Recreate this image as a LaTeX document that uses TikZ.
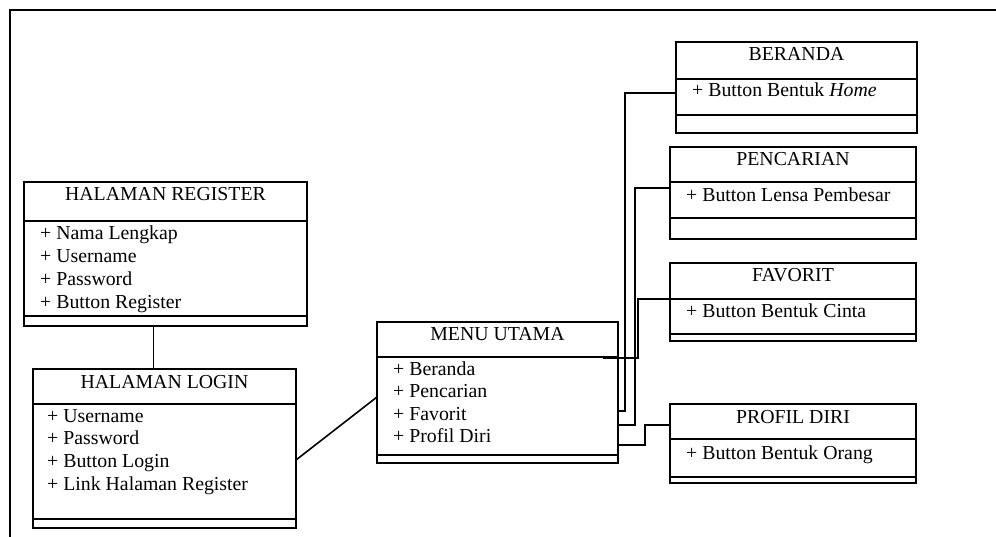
\documentclass[tikz,border=0pt]{standalone}
\usepackage{fontspec}
\setmainfont{Liberation Serif}
\usetikzlibrary{calc}

% One UML class box: name, x, y, width, height, first and second separator offsets, title
\newcommand{\umlbox}[8]{%
  \node[cls, minimum width=#4pt, minimum height=#5pt] (#1) at (#2,#3) {};
  \draw[clsline] ($(#1.north west)+(0,#6)$) -- ($(#1.north east)+(0,#6)$);
  \draw[clsline] ($(#1.north west)+(0,#7)$) -- ($(#1.north east)+(0,#7)$);
  \node[ttl] (#1-title) at ($(#1.north)+(0,19)$) {#8};
}

\tikzset{
  cls/.style={draw, line width=2pt, rectangle, inner sep=0pt, outer sep=0pt, anchor=north west},
  clsline/.style={line width=2pt},
  ttl/.style={anchor=base, inner sep=0pt, font=\fontsize{19.8}{22}\selectfont},
  attr/.style={anchor=base west, inner sep=0pt, font=\fontsize{19.8}{22}\selectfont},
  conn/.style={line width=1.6pt},
  frame/.style={line width=1.6pt}
}

\begin{document}
\begin{tikzpicture}[x=1pt, y=-1pt]
\useasboundingbox (0,0) rectangle (996,537);

% page frame (top and left edges)
\draw[frame] (10,537) -- (10,10) -- (996,10);

% classes
\umlbox{reg}{24}{182}{283}{144}{39}{134}{HALAMAN REGISTER}
\umlbox{login}{33}{369}{263}{159}{35}{150}{HALAMAN LOGIN}
\umlbox{menu}{377}{322}{241}{141}{35}{133}{MENU UTAMA}
\umlbox{beranda}{676}{42}{241}{91}{37}{73}{BERANDA}
\umlbox{cari}{670}{147}{246}{92}{35}{71}{PENCARIAN}
\umlbox{fav}{670}{263}{246}{78}{36}{71}{FAVORIT}
\umlbox{profil}{670}{404}{246}{79}{35}{73}{PROFIL DIRI}

% attributes
\foreach \t [count=\i] in {+ Nama Lengkap, + Username, + Password, + Button Register}
  \node[attr] (reg-a\i) at ($(reg.north west)+(16,{58+(\i-1)*22.7})$) {\t};
\foreach \t [count=\i] in {+ Username, + Password, + Button Login, + Link Halaman Register}
  \node[attr] (login-a\i) at ($(login.north west)+(14,{53+(\i-1)*22.7})$) {\t};
\foreach \t [count=\i] in {+ Beranda, + Pencarian, + Favorit, + Profil Diri}
  \node[attr] (menu-a\i) at ($(menu.north west)+(16,{53+(\i-1)*22.5})$) {\t};
\node[attr] (beranda-a1) at ($(beranda.north west)+(16,55)$) {+ Button Bentuk \textit{Home}};
\node[attr] (cari-a1) at ($(cari.north west)+(16,55)$) {+ Button Lensa Pembesar};
\node[attr] (fav-a1) at ($(fav.north west)+(16,55)$) {+ Button Bentuk Cinta};
\node[attr] (profil-a1) at ($(profil.north west)+(16,55)$) {+ Button Bentuk Orang};

% connectors
\draw[conn] ($(reg.south)+(-12,0)$) -- ($(login.north)+(-11,0)$);
\draw[conn] (login.east |- 0,460) -- (menu.west |- 0,397);
\draw[conn] (beranda.west |- 0,93) -- ++(-51,0) |- (menu.east |- 0,411);
\draw[conn] (cari.west |- 0,188) -- ++(-35,0) |- (menu.east |- 0,425);
\draw[conn] (fav.west |- 0,299) -- ++(-32,0) |- ([xshift=-15pt]menu.east |- 0,358);
\draw[conn] (profil.west |- 0,425) -- ++(-25,0) |- (menu.east |- 0,445);
\end{tikzpicture}
\end{document}
